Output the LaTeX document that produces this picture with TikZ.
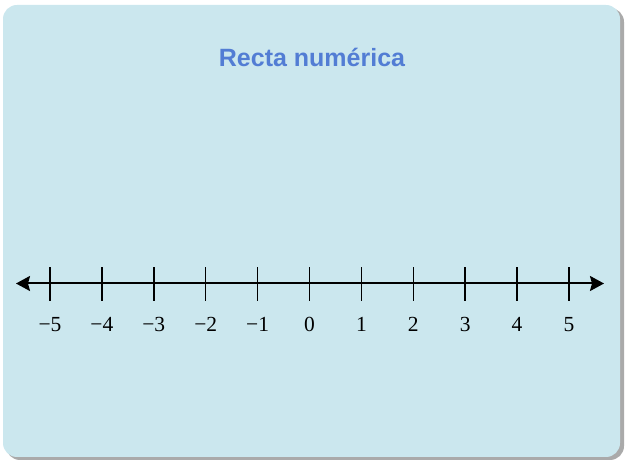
\documentclass[tikz,border=0pt]{standalone}
\usepackage{fontspec}
\setmainfont{Liberation Serif}
\newfontfamily\titlefont{Liberation Sans}
\usetikzlibrary{positioning, arrows.meta}

\definecolor{fondo}{RGB}{203,231,238}
\definecolor{sombra}{RGB}{170,170,170}
\definecolor{azultitulo}{RGB}{82,125,212}

\begin{document}
\begin{tikzpicture}[
x=1pt, y=1pt,
tarjeta/.style={fill=fondo, rounded corners=14pt},
recta/.style={{Stealth[length=14pt,width=15pt,inset=2pt]}-{Stealth[length=14pt,width=15pt,inset=2pt]}, line width=2pt},
marca/.style={line width=1.5pt},
etiqueta/.style={font=\fontsize{21.5}{21.5}\selectfont, anchor=base},
titulo/.style={font=\titlefont\bfseries\fontsize{25}{25}\selectfont, text=azultitulo, anchor=base}
]

\useasboundingbox (0,0) rectangle (631,465);

% fondo con sombra
\fill[sombra, rounded corners=14pt] (6,5) rectangle (624,457);
\fill[tarjeta] (3,8) rectangle (620,460);

\node[titulo] (titulo) at (312,398) {Recta numérica};

% recta
\coordinate (izq) at (16,181.5);
\coordinate (der) at (604,181.5);
\draw[recta] (izq) -- (der);

\foreach \n [count=\i from 0] in {−5,−4,−3,−2,−1,0,1,2,3,4,5} {
  \coordinate (m\i) at (50+51.9*\i,181.5);
  \draw[marca] ([yshift=16pt]m\i) -- ([yshift=-18pt]m\i);
  \node[etiqueta] (e\i) at (50+51.9*\i,133) {\n};
}

\end{tikzpicture}
\end{document}
